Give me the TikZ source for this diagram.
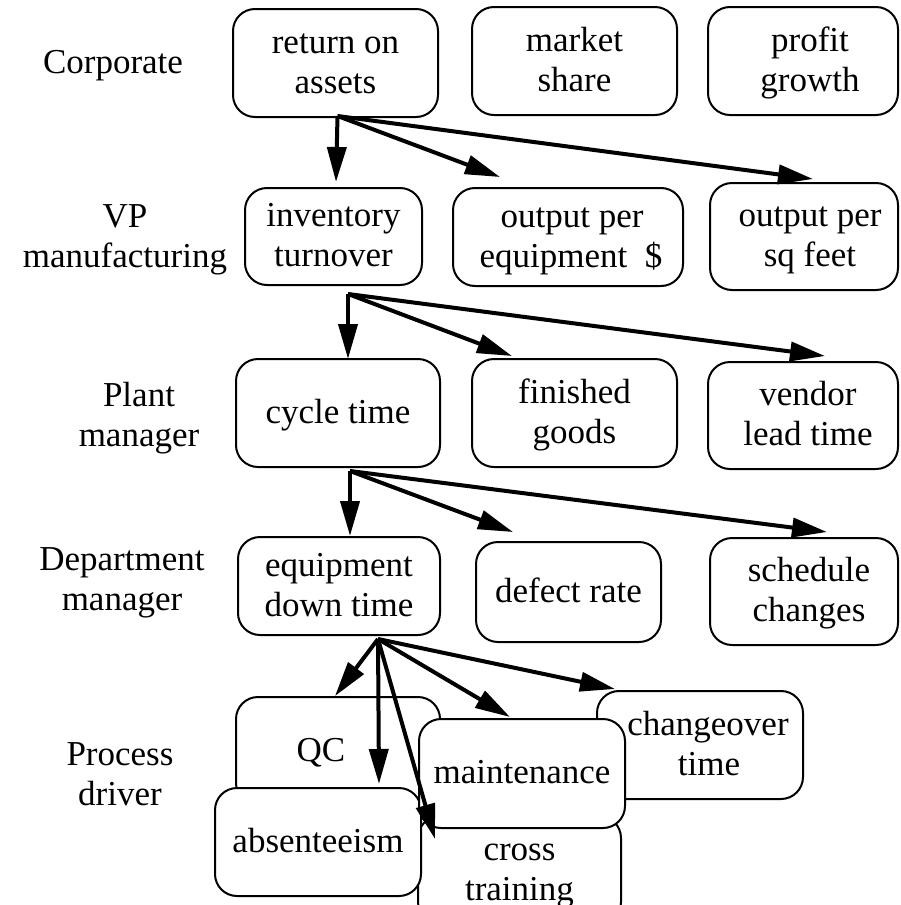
\documentclass[tikz,border=0pt]{standalone}
\usepackage{fontspec}
\setmainfont{Liberation Serif}
\usetikzlibrary{arrows.meta,calc}
% line strut: 30pt above the baseline, 10pt below
\newcommand{\lstrut}{\rule[-10pt]{0pt}{40pt}}
% extra left indent used by the right-hand column and the changeover box
\newcommand{\lpad}[1]{\hspace*{#1pt}}
\begin{document}
\begin{tikzpicture}[x=1pt,y=-1pt,
  txt/.style={inner sep=0pt, align=center, font=\fontsize{35}{40}\selectfont},
  box/.style={txt, draw, line width=2pt, rounded corners=22pt, fill=white},
  link/.style={line width=4pt, -{Triangle[length=35pt,width=19pt]}}]
\clip (0,0) rectangle (900,905);

% level labels
\node[txt] (lc) at (113,63)  {\lstrut Corporate};
\node[txt] (lv) at (125,237) {\lstrut VP\\\lstrut manufacturing};
\node[txt] (lp) at (139,416) {\lstrut Plant\\\lstrut manager};
\node[txt] (ld) at (122,580) {\lstrut Department\\\lstrut manager};
\node[txt] (lr) at (120,775) {\lstrut Process\\\lstrut driver};

% corporate measures
\node[box, minimum width=205pt, minimum height=108pt] (ret)  at (335.5,63) {\lstrut return on\\\lstrut assets};
\node[box, minimum width=205pt, minimum height=108pt] (mkt)  at (574.5,61) {\lstrut market\\\lstrut share};
\node[box, minimum width=190pt, minimum height=108pt] (prof) at (803,61)   {\lstrut\lpad{14}profit\\\lstrut\lpad{14}growth};

% VP manufacturing measures
\node[box, minimum width=177pt, minimum height=97pt]  (inv)  at (333.5,236.5) {\lstrut inventory\\\lstrut turnover};
\node[box, minimum width=230pt, minimum height=98pt]  (opeq) at (568,237)     {\lstrut\lpad{8}output per\\\lstrut\lpad{6}equipment~~\$};
\node[box, minimum width=188pt, minimum height=107pt] (opsq) at (804,236.5)   {\lstrut\lpad{12}output per\\\lstrut\lpad{12}sq feet};

% plant manager measures
\node[box, minimum width=204pt, minimum height=108pt] (cyc) at (338,413)   {\lstrut cycle time};
\node[box, minimum width=205pt, minimum height=108pt] (fin) at (574.5,413) {\lstrut finished\\\lstrut goods};
\node[box, minimum width=190pt, minimum height=107pt] (ven) at (803,415.5) {\lstrut\lpad{10}vendor\\\lstrut\lpad{10}lead time};

% department manager measures
\node[box, minimum width=202pt, minimum height=98pt]  (edt) at (339,586)   {\lstrut equipment\\\lstrut down time};
\node[box, minimum width=185pt, minimum height=100pt] (dfr) at (568.5,592) {\lstrut defect rate};
\node[box, minimum width=188pt, minimum height=107pt] (sch) at (804,591.5) {\lstrut\lpad{10}schedule\\\lstrut\lpad{10}changes};

% process drivers (overlapping, back to front)
\node[box, minimum width=204pt, minimum height=108pt] (qc)  at (338,751)   {\lstrut QC\hspace*{34pt}};
\node[box, minimum width=206pt, minimum height=108pt] (chg) at (700,745)   {\lstrut\lpad{16}changeover\\\lstrut\lpad{18}time};
\node[box, minimum width=203pt, minimum height=108pt] (crs) at (519.5,870) {\lstrut cross\\\lstrut training};
\node[box, minimum width=206pt, minimum height=108pt] (abs) at (318,842)   {\lstrut absenteeism};
\node[box, minimum width=206pt, minimum height=109pt] (mnt) at (522,773.5) {\lstrut maintenance};

% fan-out points under each parent
\coordinate (h1) at ($(ret.south)+(2,-2)$);
\coordinate (h2) at ($(inv.south)+(14.5,8)$);
\coordinate (h3) at ($(cyc.south)+(12,3)$);
\coordinate (h4) at ($(edt.south)+(39,3)$);

\draw[link] (h1) -- ($(inv.north)+(2.5,-5)$);
\draw[link] (h1) -- ($(opeq.north)+(-68,-10)$);
\draw[link] (h1) -- ($(opsq.north)+(9,-3)$);

\draw[link] (h2) -- ($(cyc.north)+(10,1)$);
\draw[link] (h2) -- ($(fin.north)+(-62.5,-2)$);
\draw[link] (h2) -- ($(ven.north)+(22,-5)$);

\draw[link] (h3) -- ($(edt.north)+(11,0)$);
\draw[link] (h3) -- ($(dfr.north)+(-55.5,-9)$);
\draw[link] (h3) -- ($(sch.north)+(23,-5)$);

\draw[link] (h4) -- ($(qc.north)+(-3,0)$);
\draw[link] (h4) -- ($(abs.north)+(61,-3)$);
\draw[link] (h4) -- ($(crs.north)+(-84.5,24)$);
\draw[link] (h4) -- ($(mnt.north)+(-12,-1)$);
\draw[link] (h4) -- ($(chg.north)+(-85,-1)$);
\end{tikzpicture}
\end{document}
